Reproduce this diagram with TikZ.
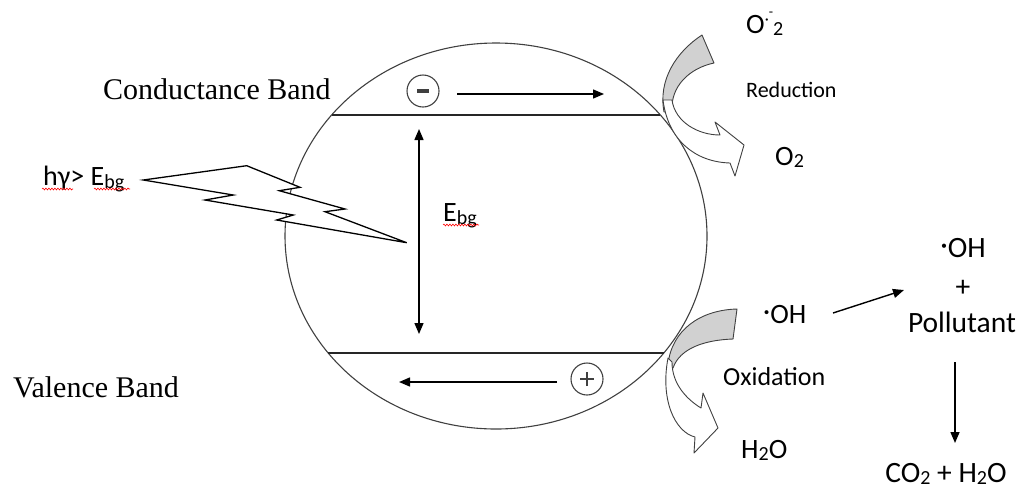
\documentclass[tikz,border=0pt]{standalone}
\usepackage{fontspec}
\setmainfont{Liberation Serif}
\newfontfamily\calibri{Carlito}
\usetikzlibrary{arrows.meta,shapes.geometric,decorations.pathmorphing}

% small lowered index and raised radical dot
\newcommand{\subtwo}{\raisebox{-2pt}{\fontsize{20}{20}\selectfont 2}}
\newcommand{\subbg}{\raisebox{-3pt}{\fontsize{20}{20}\selectfont bg}}
\newcommand{\rdot}{\raisebox{3pt}{·}}

\begin{document}
\begin{tikzpicture}[x=1pt,y=-1pt,
  outline/.style={draw=black!75, line width=1.1pt},
  bandline/.style={draw=black!85, line width=1.4pt},
  flow/.style={draw=black, line width=1.4pt, -{Triangle[length=11pt,width=9pt]}},
  bandtext/.style={font=\fontsize{30}{30}\selectfont, anchor=base west, inner sep=0pt},
  chem/.style={font=\calibri\fontsize{28}{28}\selectfont, anchor=base west, inner sep=0pt},
  chemc/.style={font=\calibri\fontsize{29.5}{29.5}\selectfont, anchor=base, inner sep=0pt},
  carrier/.style={circle, draw=black!75, line width=1.1pt, minimum size=32pt, inner sep=0pt},
  squiggle/.style={draw=red, line width=0.6pt, decorate,
    decoration={snake, amplitude=0.9pt, segment length=3pt}},
  curl/.style={draw=black!75, line width=0.9pt, line join=round},
]
\useasboundingbox (0,0) rectangle (1024,491);

% the particle
\node[ellipse, outline, minimum width=422pt, minimum height=386pt, inner sep=0pt] (particle) at (496,236) {};

% band edges
\coordinate (cbL) at (331.6,115); \coordinate (cbR) at (660.4,115);
\coordinate (vbL) at (328.2,353); \coordinate (vbR) at (663.8,353);
\draw[bandline] (cbL) -- (cbR);
\draw[bandline] (vbL) -- (vbR);

% electron and hole
\node[carrier, path picture={\draw[line width=3.6pt]
   ([xshift=-6pt]path picture bounding box.center) -- ([xshift=6pt]path picture bounding box.center);}]
   (electron) at (423,91) {};
\node[carrier, path picture={\draw[line width=2.8pt]
   ([xshift=-7pt]path picture bounding box.center) -- ([xshift=7pt]path picture bounding box.center)
   ([yshift=-7pt]path picture bounding box.center) -- ([yshift=7pt]path picture bounding box.center);}]
   (hole) at (587,379) {};

\coordinate (eStart) at (457,94); \coordinate (eEnd) at (604,94);
\draw[flow] (eStart) -- (eEnd);
\coordinate (hStart) at (557,382); \coordinate (hEnd) at (399,382);
\draw[flow] (hStart) -- (hEnd);

% band gap
\coordinate (gapTop) at (419,129); \coordinate (gapBot) at (419,334);
\draw[draw=black, line width=1.4pt, {Triangle[length=11pt,width=9pt]}-{Triangle[length=11pt,width=9pt]}] (gapTop) -- (gapBot);
\node[chem] (ebg) at (443,221) {E\subbg};
\draw[squiggle] (443,225) -- (479,225);

% incoming photon
\draw[draw=black, line width=1.3pt, fill=white, line join=miter]
  (143.3,180) -- (246.7,165.7) -- (300,187.3) -- (279.3,190.7) -- (345,209)
  -- (325,211.7) -- (406.7,242.7) -- (276.7,220) -- (293.3,215) -- (205,200)
  -- (233.3,195) -- cycle;
\node[chem] (photon) at (43,185) {hγ> E\subbg};
\draw[squiggle] (42,189) -- (73,189);
\draw[squiggle] (94,189) -- (130,189);

% band names
\node[bandtext] (cb) at (103,99) {Conductance Band};
\node[bandtext] (vb) at (13,397) {Valence Band};

% reduction at the conduction band
\draw[curl, fill=black!18]
  (702,35) .. controls (676,52) and (658,80) .. (664,112)
  -- (672,112) .. controls (670,86) and (690,68) .. (714,63) -- cycle;
\draw[curl, fill=white]
  (663,100) .. controls (668,140) and (695,162) .. (730,163)
  -- (735,176) -- (744,145) -- (715,122) -- (720,135)
  .. controls (698,135) and (675,122) .. (672,100) -- cycle;
\node[chem] (osup) at (746,33) {O\raisebox{9pt}{\fontsize{16}{16}\selectfont ·}\raisebox{17pt}{\fontsize{14}{14}\selectfont -}\subtwo};
\node[chem, font=\calibri\fontsize{22}{22}\selectfont] (red) at (746,97) {Reduction};
\node[chem] (o2) at (775,165) {O\subtwo};

% oxidation at the valence band
\draw[curl, fill=black!18]
  (737,309) .. controls (700,310) and (672,330) .. (668,364)
  -- (673,368) .. controls (680,348) and (705,340) .. (733,339) -- cycle;
\draw[curl, fill=white]
  (668,358) .. controls (660,400) and (675,432) .. (695,437)
  -- (694,453) -- (718,428) -- (703,393) -- (701,408)
  .. controls (688,400) and (672,385) .. (672,362) -- cycle;
\node[chem] (ohmid) at (763,323) {\rdot OH};
\node[chem, font=\calibri\fontsize{26}{26}\selectfont] (oxi) at (723,385) {Oxidation};
\node[chem] (h2o) at (741,458) {H\subtwo O};

% pollutant degradation
\node[chemc] (ohr) at (963,257) {\rdot OH};
\node[chemc] (plus) at (963,296) {+};
\node[chemc] (poll) at (962,332) {Pollutant};
\node[chemc] (prod) at (946,482) {CO\subtwo{} + H\subtwo O};
\coordinate (attack) at (833,313); \coordinate (attackEnd) at (904,290);
\draw[flow] (attack) -- (attackEnd);
\coordinate (degr) at (955,362); \coordinate (degrEnd) at (955,443);
\draw[flow] (degr) -- (degrEnd);
\end{tikzpicture}
\end{document}
